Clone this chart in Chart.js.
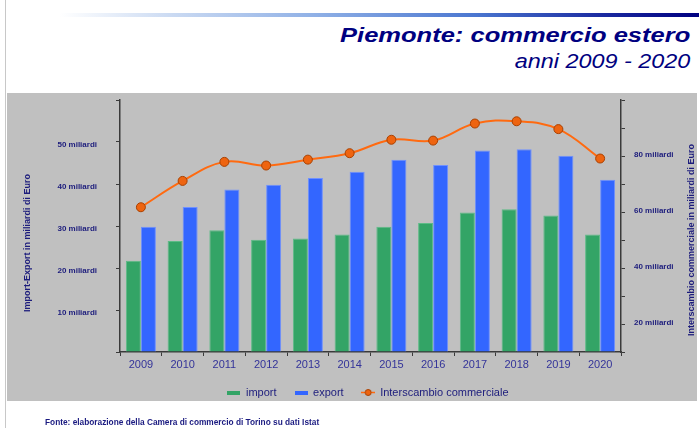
<!DOCTYPE html>
<html>
<head>
<meta charset="utf-8">
<script src="https://cdn.jsdelivr.net/npm/chart.js@4"></script>
<style>
  html, body { margin: 0; padding: 0; background: #fff; }
  body { width: 699px; height: 428px; position: relative; overflow: hidden; font-family: "Liberation Sans", Arial, sans-serif; }
  #border { position: absolute; left: 5px; top: 0; width: 1px; height: 428px; background: #c8c8c8; }
  #rule { position: absolute; left: 60px; top: 13px; width: 639px; height: 4px;
    background: linear-gradient(to right, #ffffff 0%, #c9d9f2 18%, #8fb0e6 40%, #4a76d0 65%, #1a2aa0 85%, #000080 100%); }
  #title { position: absolute; right: 9px; top: 24px; font: italic bold 21px/21px "Liberation Sans", Arial, sans-serif;
    color: #000080; white-space: nowrap; transform: scaleX(1.215); transform-origin: right center; }
  #subtitle { position: absolute; right: 9px; top: 52px; font: italic 19.5px/19.5px "Liberation Sans", Arial, sans-serif;
    color: #000080; white-space: nowrap; transform: scaleX(1.2); transform-origin: right center; }
  #panel { position: absolute; left: 7px; top: 93px; width: 690px; height: 308px; background: #c0c0c0; }
  #chart { position: absolute; left: 7px; top: 93px; }
  #fonte { position: absolute; left: 45px; top: 418px; font: bold 8.3px/9px "Liberation Sans", Arial, sans-serif; color: #1a1a80; white-space: nowrap; }
</style>
</head>
<body>
<div id="border"></div>
<div id="rule"></div>
<div id="title">Piemonte: commercio estero</div>
<div id="subtitle">anni 2009 - 2020</div>
<div id="panel"></div>
<canvas id="chart" width="690" height="335"></canvas>
<div id="fonte">Fonte: elaborazione della Camera di commercio di Torino su dati Istat</div>
<script>
const years = ['2009', '2010', '2011', '2012', '2013', '2014', '2015', '2016', '2017', '2018', '2019', '2020'];
const importVals = [21.7, 26.4, 29.0, 26.7, 27.0, 28.0, 29.8, 30.7, 33.2, 34.0, 32.5, 28.0];
const exportVals = [29.8, 34.5, 38.7, 39.8, 41.4, 42.9, 45.8, 44.5, 48.0, 48.3, 46.7, 41.0];
const interscambio = [51.7, 61.1, 67.9, 66.6, 68.7, 71.0, 75.8, 75.5, 81.6, 82.4, 79.6, 69.1];
const leftTicks = [10, 20, 30, 40, 50];
const rightTicks = [20, 40, 60, 80];

const navy = '#1c1c7c';
const axisColor = '#3a3a3a';

// piccole icone per la legenda
function makeIcon(w, h, draw) {
  const c = document.createElement('canvas');
  c.width = w; c.height = h;
  draw(c.getContext('2d'));
  return c;
}
const icons = [
  makeIcon(13, 4, g => { g.fillStyle = '#33a466'; g.fillRect(0, 0, 13, 4); }),
  makeIcon(13, 4, g => { g.fillStyle = '#3366ff'; g.fillRect(0, 0, 13, 4); }),
  makeIcon(14, 9, g => {
    g.strokeStyle = '#ff6a10'; g.lineWidth = 1.5;
    g.beginPath(); g.moveTo(0, 4.5); g.lineTo(14, 4.5); g.stroke();
    g.fillStyle = '#ee6410'; g.strokeStyle = '#a84000'; g.lineWidth = 1;
    g.beginPath(); g.arc(7, 4.5, 3, 0, Math.PI * 2); g.fill(); g.stroke();
  })
];

// titoli degli assi verticali
const axisTitles = {
  id: 'axisTitles',
  afterDraw(chart) {
    const { ctx } = chart;
    ctx.save();
    ctx.font = 'bold 9px "Liberation Sans", Arial, sans-serif';
    ctx.fillStyle = navy;
    ctx.textAlign = 'center';
    ctx.textBaseline = 'middle';
    ctx.translate(20.5, 150);
    ctx.rotate(-Math.PI / 2);
    ctx.fillText('Import-Export in miliardi di Euro', 0, 0);
    ctx.restore();
    ctx.save();
    ctx.font = 'bold 9px "Liberation Sans", Arial, sans-serif';
    ctx.fillStyle = navy;
    ctx.textAlign = 'center';
    ctx.textBaseline = 'middle';
    ctx.translate(684.5, 147);
    ctx.rotate(-Math.PI / 2);
    ctx.fillText('Interscambio commerciale in miliardi di Euro', 0, 0);
    ctx.restore();
  }
};

const tickFont = { family: '"Liberation Sans", Arial, sans-serif', size: 8, weight: 'bold' };

new Chart(document.getElementById('chart'), {
  data: {
    labels: years,
    datasets: [
      {
        type: 'bar', label: 'import', data: importVals, yAxisID: 'y', order: 1,
        backgroundColor: '#33a466', borderColor: '#5cbb86', borderWidth: 1,
        barPercentage: 1, categoryPercentage: 0.72
      },
      {
        type: 'bar', label: 'export', data: exportVals, yAxisID: 'y', order: 1,
        backgroundColor: '#3366ff', borderColor: '#6f90ff', borderWidth: 1,
        barPercentage: 1, categoryPercentage: 0.72
      },
      {
        type: 'line', label: 'Interscambio commerciale', data: interscambio, yAxisID: 'y1', order: 0,
        borderColor: '#ff6a10', borderWidth: 2, tension: 0.4,
        pointRadius: 4.5, pointBackgroundColor: '#ee6410', pointBorderColor: '#a84000', pointBorderWidth: 1
      }
    ]
  },
  options: {
    responsive: false,
    animation: false,
    layout: { padding: { left: 32, right: 0, top: 7, bottom: 20 } },
    plugins: {
      tooltip: { enabled: false },
      legend: {
        position: 'bottom',
        labels: {
          usePointStyle: true,
          pointStyleWidth: 13,
          boxHeight: 11,
          padding: 18,
          color: navy,
          font: { family: '"Liberation Sans", Arial, sans-serif', size: 11 },
          sort: (a, b) => a.datasetIndex - b.datasetIndex,
          generateLabels(chart) {
            const items = Chart.defaults.plugins.legend.labels.generateLabels(chart);
            items.forEach(it => { it.pointStyle = icons[it.datasetIndex]; });
            return items;
          }
        }
      }
    },
    scales: {
      x: {
        offset: true,
        grid: { offset: true, drawOnChartArea: false, tickLength: 4, tickColor: axisColor },
        border: { color: axisColor, width: 1.5 },
        ticks: { color: '#333399', padding: 2, font: { family: '"Liberation Sans", Arial, sans-serif', size: 11 } },
        afterFit(scale) { scale.height = 17; }
      },
      y: {
        position: 'left', min: 0, max: 60,
        grid: { drawOnChartArea: false, tickLength: 4, tickColor: axisColor },
        border: { color: axisColor, width: 1.5 },
        ticks: {
          stepSize: 10, padding: 19, labelOffset: 3, color: navy, font: tickFont,
          callback: v => leftTicks.includes(v) ? v + ' miliardi' : ''
        },
        afterFit(scale) { scale.width = 81; scale.paddingTop = 0; scale.paddingBottom = 0; }
      },
      y1: {
        position: 'right', min: 0, max: 90,
        grid: { drawOnChartArea: false, tickLength: 4, tickColor: axisColor },
        border: { color: axisColor, width: 1.5 },
        ticks: {
          stepSize: 10, padding: 9, labelOffset: 27, color: navy, font: tickFont,
          callback: v => rightTicks.includes(v) ? v + ' miliardi' : ''
        },
        afterFit(scale) { scale.width = 76; scale.paddingTop = 0; scale.paddingBottom = 0; }
      }
    }
  },
  plugins: [axisTitles]
});
</script>
</body>
</html>
